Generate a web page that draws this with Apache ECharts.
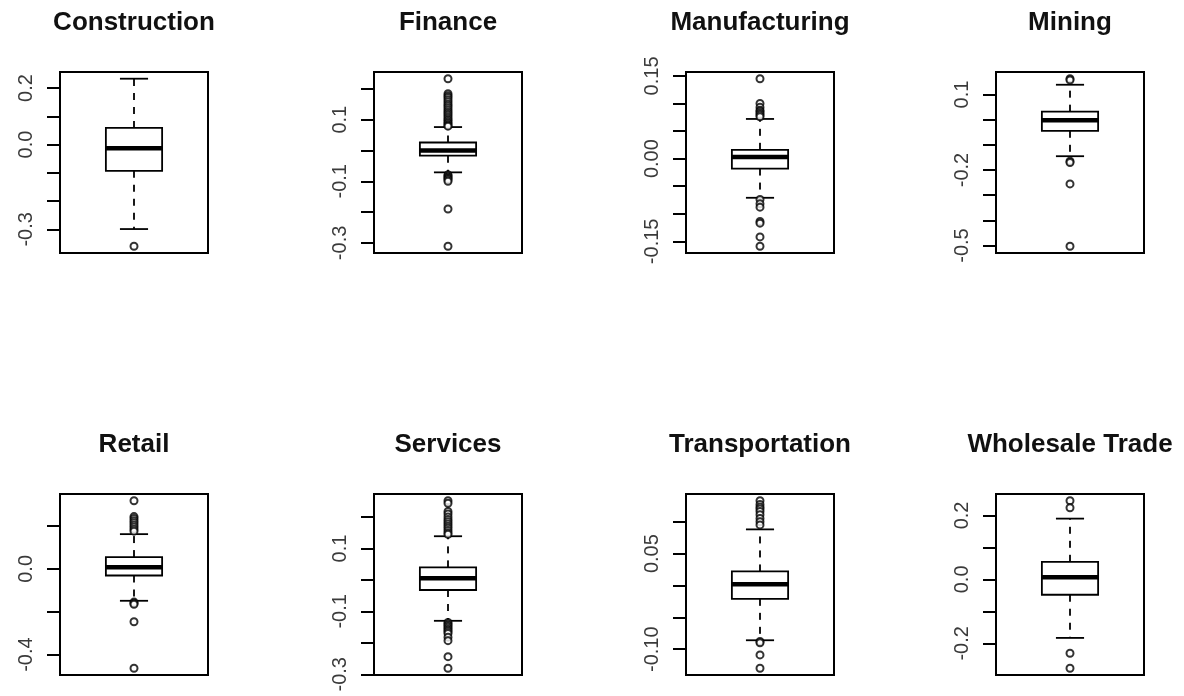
<!DOCTYPE html>
<html>
<head>
<meta charset="utf-8">
<script src="https://cdn.jsdelivr.net/npm/echarts@6/dist/echarts.min.js"></script>
<style>
  html, body { margin: 0; padding: 0; background: #fff; }
  #chart { width: 1184px; height: 696px; }
</style>
</head>
<body>
<div id="chart"></div>
<script>
// Sectors, one box plot each
const sectors = ['Construction', 'Finance', 'Manufacturing', 'Mining',
                 'Retail', 'Services', 'Transportation', 'Wholesale Trade'];

// Five-number summaries (whisker ends and hinges)
const lowerWhisker = [-0.299, -0.071, -0.071, -0.145, -0.149, -0.130, -0.086, -0.183];
const lowerHinge   = [-0.093, -0.017, -0.018, -0.044, -0.031, -0.032, -0.021, -0.048];
const medians      = [-0.013,  0.000,  0.003, -0.002,  0.008,  0.005,  0.002,  0.007];
const upperHinge   = [ 0.059,  0.026,  0.016,  0.032,  0.055,  0.040,  0.022,  0.055];
const upperWhisker = [ 0.233,  0.076,  0.072,  0.139,  0.162,  0.139,  0.088,  0.190];

// Points beyond the whiskers
const outliers = [
  [-0.360],
  [0.233, 0.184, 0.178, 0.172, 0.165, 0.158, 0.151, 0.145, 0.139, 0.132, 0.126, 0.120,
   0.114, 0.108, 0.102, 0.097, 0.092, 0.087, 0.082, 0.079,
   -0.079, -0.083, -0.087, -0.091, -0.095, -0.100, -0.190, -0.311],
  [0.145, 0.100, 0.093, 0.088, 0.085, 0.082, 0.079, 0.076,
   -0.074, -0.082, -0.088, -0.114, -0.117, -0.142, -0.159],
  [0.163, 0.158, -0.165, -0.170, -0.255, -0.503],
  [0.318, 0.244, 0.235, 0.225, 0.215, 0.205, 0.195, 0.185, 0.176,
   -0.155, -0.160, -0.165, -0.247, -0.464],
  [0.252, 0.244, 0.218, 0.210, 0.200, 0.192, 0.185, 0.178, 0.171, 0.164, 0.157, 0.150, 0.145,
   -0.135, -0.140, -0.145, -0.150, -0.155, -0.160, -0.165, -0.170, -0.182, -0.193, -0.244, -0.281],
  [0.133, 0.127, 0.123, 0.120, 0.116, 0.111, 0.105, 0.100, 0.095,
   -0.088, -0.090, -0.109, -0.130],
  [0.246, 0.224, -0.231, -0.278]
];

// Axis ticks and the subset of them that carry a label
const tickValues = [
  [-0.3, -0.2, -0.1, 0, 0.1, 0.2],
  [-0.3, -0.2, -0.1, 0, 0.1, 0.2],
  [-0.15, -0.10, -0.05, 0, 0.05, 0.10, 0.15],
  [-0.5, -0.4, -0.3, -0.2, -0.1, 0, 0.1],
  [-0.4, -0.2, 0, 0.2],
  [-0.3, -0.2, -0.1, 0, 0.1, 0.2],
  [-0.10, -0.05, 0, 0.05, 0.10],
  [-0.2, -0.1, 0, 0.1, 0.2]
];
const labelValues = [
  [-0.3, 0, 0.2],
  [-0.3, -0.1, 0.1],
  [-0.15, 0, 0.15],
  [-0.5, -0.2, 0.1],
  [-0.4, 0],
  [-0.3, -0.1, 0.1],
  [-0.10, 0.05],
  [-0.2, 0, 0.2]
];
const labelDecimals = [1, 1, 2, 1, 1, 1, 2, 1];

// ---- layout ----
const colLeft = [60, 374, 686, 996];
const rowTop = [72, 494];
const plotW = 148, plotH = 181;
const titleCenterY = [23, 445];
const BOX_FRACTION = 0.38;
const FONT = '"Liberation Sans", Arial, Helvetica, sans-serif';

// y range: data range widened by 4% on each side
function yRange(i) {
  const all = [lowerWhisker[i], upperWhisker[i]].concat(outliers[i]);
  const lo = Math.min.apply(null, all), hi = Math.max.apply(null, all);
  const pad = (hi - lo) * 0.04;
  return [lo - pad, hi + pad];
}

function renderBox(params, api) {
  const x = api.value(0);
  const pLo = api.coord([x, api.value(1)]);
  const pQ1 = api.coord([x, api.value(2)]);
  const pMed = api.coord([x, api.value(3)]);
  const pQ3 = api.coord([x, api.value(4)]);
  const pHi = api.coord([x, api.value(5)]);
  const band = api.size([1, 0])[0];
  const half = band * BOX_FRACTION / 2;
  const cap = half / 2;
  const cx = pMed[0];
  const seg = (x1, y1, x2, y2, extra) => ({
    type: 'line',
    shape: { x1, y1, x2, y2 },
    style: Object.assign({ stroke: '#000', lineWidth: 1.8 }, extra || {})
  });
  return {
    type: 'group',
    children: [
      seg(cx, pQ3[1], cx, pHi[1], { lineDash: [7, 7] }),
      seg(cx, pQ1[1], cx, pLo[1], { lineDash: [7, 7] }),
      seg(cx - cap, pHi[1], cx + cap, pHi[1]),
      seg(cx - cap, pLo[1], cx + cap, pLo[1]),
      {
        type: 'rect',
        shape: { x: cx - half, y: pQ3[1], width: half * 2, height: pQ1[1] - pQ3[1] },
        style: { fill: '#fff', stroke: '#000', lineWidth: 1.8 }
      },
      seg(cx - half, pMed[1], cx + half, pMed[1], { lineWidth: 4.5 })
    ]
  };
}

const grid = [], xAxis = [], yAxis = [], series = [], graphic = [];
sectors.forEach((name, i) => {
  const col = i % 4, row = Math.floor(i / 4);
  const [ymin, ymax] = yRange(i);
  grid.push({
    left: colLeft[col], top: rowTop[row], width: plotW, height: plotH,
    show: true, borderColor: '#000', borderWidth: 2, backgroundColor: 'transparent'
  });
  xAxis.push({
    gridIndex: i, type: 'category', data: [name], boundaryGap: true,
    axisLine: { show: false }, axisTick: { show: false }, axisLabel: { show: false },
    splitLine: { show: false }
  });
  const dec = labelDecimals[i];
  yAxis.push({
    gridIndex: i, type: 'value', min: ymin, max: ymax,
    axisLine: { show: false },
    splitLine: { show: false },
    axisTick: {
      show: true, length: 13, customValues: tickValues[i],
      lineStyle: { color: '#000', width: 2 }
    },
    axisLabel: {
      show: true, customValues: labelValues[i], rotate: 90, margin: 24,
      fontSize: 20, fontFamily: FONT, color: '#3a3a3a',
      formatter: v => Number(v).toFixed(dec)
    }
  });
  series.push({
    type: 'custom', name: name, xAxisIndex: i, yAxisIndex: i,
    renderItem: renderBox,
    encode: { x: 0, y: [1, 2, 3, 4, 5] },
    data: [[0, lowerWhisker[i], lowerHinge[i], medians[i], upperHinge[i], upperWhisker[i]]],
    z: 2, silent: true
  });
  series.push({
    type: 'scatter', name: name + ' outliers', xAxisIndex: i, yAxisIndex: i,
    symbol: 'emptyCircle', symbolSize: 7,
    itemStyle: { color: '#000', borderColor: '#000', borderWidth: 1.6 },
    data: outliers[i].map(v => [0, v]),
    z: 3, silent: true
  });
  graphic.push({
    type: 'text',
    x: colLeft[col] + plotW / 2,
    y: titleCenterY[row],
    style: {
      text: name,
      font: 'bold 26px ' + FONT,
      fill: '#111',
      align: 'center', verticalAlign: 'middle',
      textAlign: 'center', textVerticalAlign: 'middle'
    }
  });
});

const chart = echarts.init(document.getElementById('chart'), null, { renderer: 'canvas' });
chart.setOption({
  animation: false,
  backgroundColor: '#fff',
  grid, xAxis, yAxis, series, graphic
});
</script>
</body>
</html>
